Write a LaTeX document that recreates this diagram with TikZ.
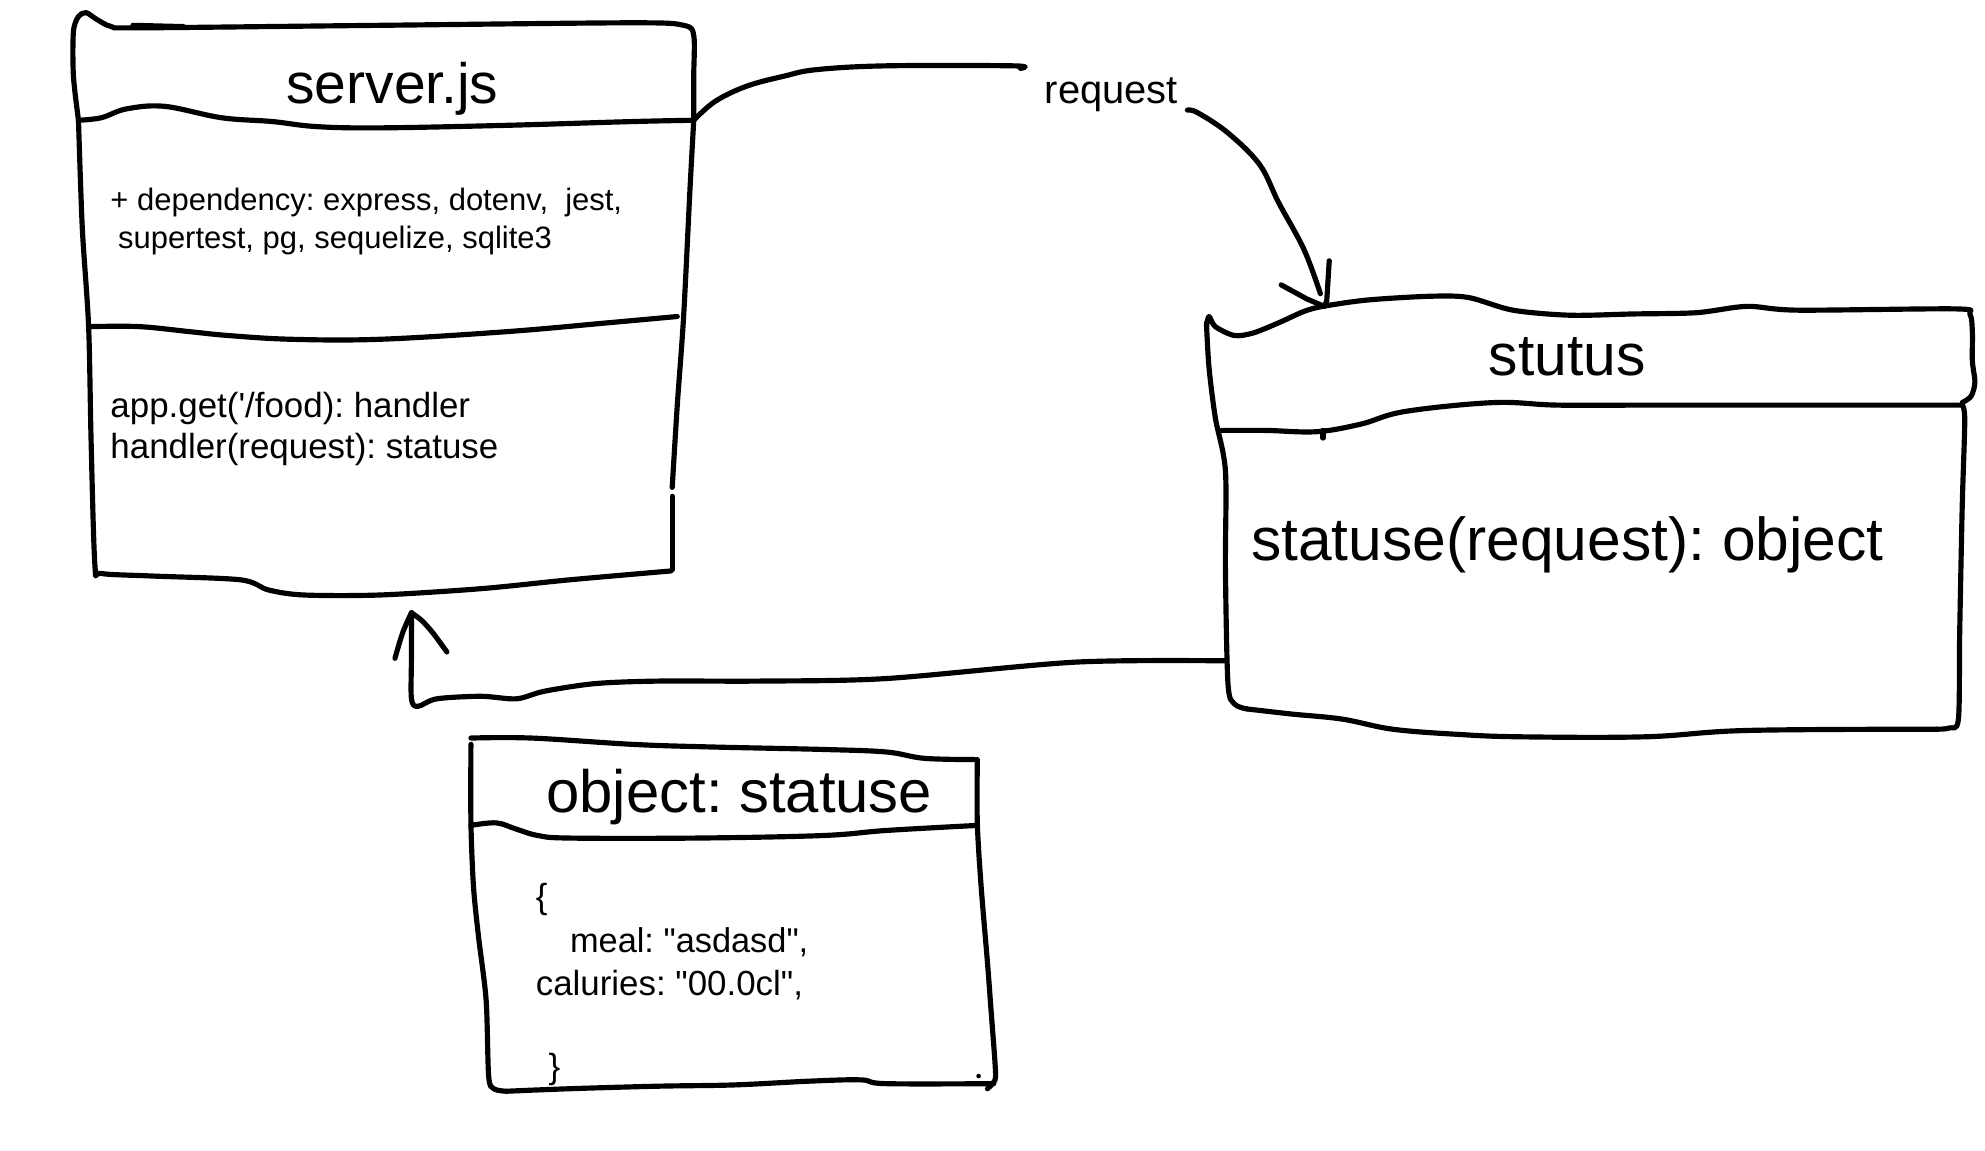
\documentclass[tikz,border=0pt]{standalone}
\usepackage{fontspec}
\setmainfont{Liberation Sans}
\frenchspacing
\begin{document}
\begin{tikzpicture}[x=0.025cm,y=-0.025cm,
  ink/.style={line width=2.9pt,line cap=round,line join=round},
  lbl/.style={inner sep=0pt,anchor=base west},
  ttl/.style={inner sep=0pt,anchor=base}]
\useasboundingbox (0,0) rectangle (1568,909);

% ---------- server.js box ----------
\draw[ink] plot[smooth,tension=0.5] coordinates {(62,95) (58,60) (58,25) (62,13) (68,10) (76,15) (88,21) (110,22) (300,20) (500,18) (540,20) (548,28) (548,60) (548,95)};
\draw[ink] (105,20) -- (145,21);
\draw[ink] plot[smooth,tension=0.6] coordinates {(62,95) (80,93) (100,86) (130,84) (175,93) (215,96) (250,100) (300,101) (400,99) (500,96) (548,95)};
\draw[ink] plot[smooth,tension=0.5] coordinates {(62,95) (65,180) (70,258) (72,350) (75,447) (80,453) (120,455) (190,458) (212,466) (240,470) (300,470) (380,465) (450,458) (530,451)};
\draw[ink] plot[smooth,tension=0.6] coordinates {(72,258) (110,258) (150,262) (180,265) (230,268) (300,268) (400,262) (480,255) (535,250)};
\draw[ink] plot[smooth,tension=0.5] coordinates {(548,95) (545,150) (540,250) (535,320) (531,385)};
\draw[ink] (531,392) -- (531,450);

\node[ttl,font=\fontsize{32}{38}\selectfont] (srvT) at (310,82) {server.js};
\node[lbl,font=\fontsize{17.4}{21}\selectfont] (dep1) at (87,166) {+ dependency: express, dotenv,\ \ jest,};
\node[lbl,font=\fontsize{17.4}{21}\selectfont] (dep2) at (93,196) {supertest, pg, sequelize, sqlite3};
\node[lbl,font=\fontsize{19.6}{23}\selectfont] (m1) at (87,330) {app.get(\textquotesingle/food): handler};
\node[lbl,font=\fontsize{19.6}{23}\selectfont] (m2) at (87,362) {handler(request): statuse};

% ---------- stutus box ----------
\draw[ink] plot[smooth,tension=0.5] coordinates {(953,258) (955,250) (960,258) (975,265) (990,263) (1010,255) (1030,246) (1045,242) (1080,237) (1130,234) (1160,235) (1195,245) (1240,249) (1290,248) (1340,247) (1380,242) (1420,245) (1545,244) (1556,248) (1558,262) (1558,285) (1560,302) (1557,313) (1550,318)};
\draw[ink] plot[smooth,tension=0.5] coordinates {(953,255) (955,290) (960,330) (968,372) (968,450) (970,540) (975,556) (985,560)};
\draw[ink] plot[smooth,tension=0.6] coordinates {(965,340) (1000,340) (1040,341) (1075,335) (1110,325) (1180,318) (1230,320) (1300,320) (1350,320) (1550,320)};
\draw[ink] (1045,340) -- (1045,346);
\draw[ink] plot[smooth,tension=0.5] coordinates {(1550,320) (1552,332) (1550,400) (1548,500) (1547,568) (1540,575) (1530,576)};
\draw[ink] plot[smooth,tension=0.6] coordinates {(985,560) (1020,564) (1060,568) (1100,576) (1150,580) (1200,582) (1300,582) (1380,577) (1530,576)};

\node[ttl,font=\fontsize{33}{40}\selectfont] (stT) at (1238,297) {stutus};
\node[lbl,font=\fontsize{34}{40}\selectfont] (stM) at (988,443) {statuse(request): object};

% ---------- object: statuse box ----------
\draw[ink] plot[smooth,tension=0.6] coordinates {(372,583) (420,583) (500,588) (560,590) (650,592) (700,594) (730,599) (770,600)};
\draw[ink] plot[smooth,tension=0.5] coordinates {(372,588) (372,650) (374,700) (378,740) (384,790) (386,850) (390,860) (400,862)};
\draw[ink] plot[smooth,tension=0.5] coordinates {(772,600) (772,650) (775,700) (780,760) (783,800) (786,840) (786,853) (780,860)};
\draw[ink] plot[smooth,tension=0.6] coordinates {(372,652) (392,650) (408,655) (425,660) (450,662) (550,662) (650,660) (700,656) (772,652)};
\draw[ink] plot[smooth,tension=0.6] coordinates {(400,862) (450,860) (520,858) (580,857) (640,854) (680,853) (700,856) (785,856)};
\fill (773,850) circle (1.8);

\node[ttl,font=\fontsize{33.6}{40}\selectfont] (obT) at (584,642) {object: statuse};
\node[lbl,font=\fontsize{19.6}{23}\selectfont] (ob1) at (423,718) {\{};
\node[lbl,font=\fontsize{19.3}{23}\selectfont] (ob2) at (450,752) {meal: \textquotedbl asdasd\textquotedbl,};
\node[lbl,font=\fontsize{19.6}{23}\selectfont] (ob3) at (423,786) {caluries: \textquotedbl 00.0cl\textquotedbl,};
\node[lbl,font=\fontsize{19.6}{23}\selectfont] (ob4) at (433,852) {\}};

% ---------- request connector ----------
\coordinate (srvOut) at (548,95);
\coordinate (reqEnd) at (806,54);
\coordinate (reqStart) at (938,87);
\coordinate (stIn) at (1046,242);
\node[lbl,font=\fontsize{22.4}{26}\selectfont] (req) at (825,82) {request};
\draw[ink] plot[smooth,tension=0.6] coordinates {(srvOut) (565,80) (590,68) (620,60) (645,55) (700,52) (800,52) (reqEnd)};
\draw[ink] plot[smooth,tension=0.6] coordinates {(reqStart) (946,89) (970,105) (995,130) (1010,160) (1030,197) (1043,232)};
\draw[ink] (1050,206) -- (1048,238) -- (stIn);
\draw[ink] (1012,225) -- (1032,236) -- (stIn);

% ---------- return connector ----------
\coordinate (stOut) at (968,522);
\coordinate (srvIn) at (325,484);
\draw[ink] plot[smooth,tension=0.5] coordinates {(stOut) (850,523) (700,536) (600,538) (520,538) (470,540) (430,546) (408,552) (380,550) (345,552) (330,558) (325,552) (325,520) (srvIn)};
\draw[ink] plot[smooth,tension=0.5] coordinates {(312,520) (318,500) (srvIn)};
\draw[ink] plot[smooth,tension=0.5] coordinates {(srvIn) (333,490) (342,500) (353,515)};
\end{tikzpicture}
\end{document}
